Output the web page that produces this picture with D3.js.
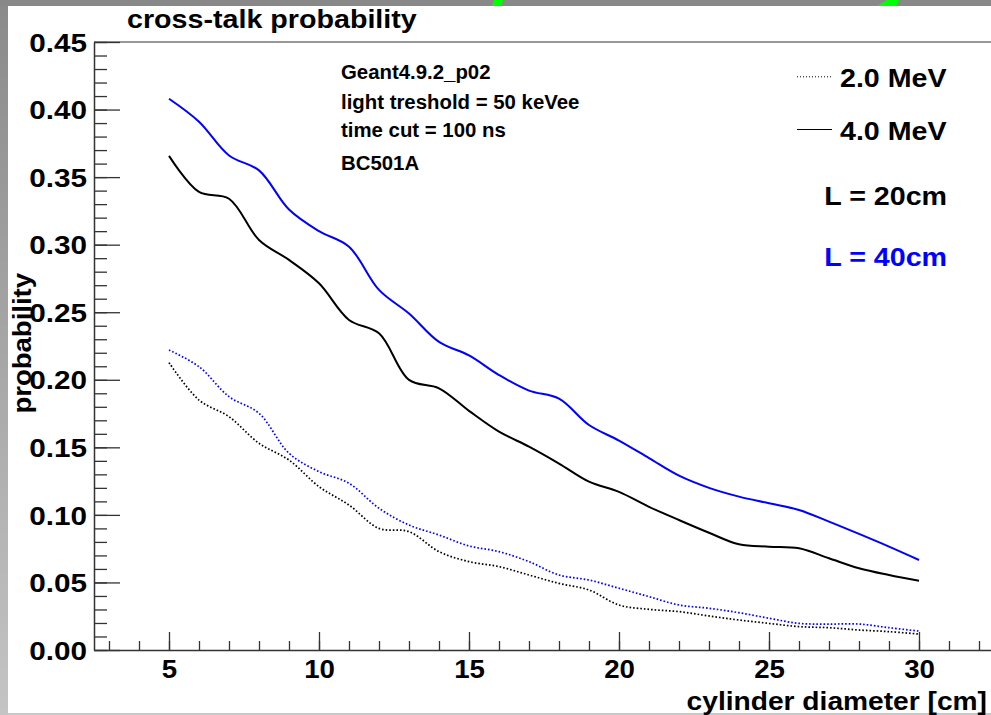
<!DOCTYPE html>
<html>
<head>
<meta charset="utf-8">
<script src="https://cdn.jsdelivr.net/npm/d3@7"></script>
<style>
  html, body { margin: 0; padding: 0; background: #fff; }
  svg { display: block; }
  text { font-family: "Liberation Sans", Arial, Helvetica, sans-serif; font-weight: bold; }
</style>
</head>
<body>
<svg id="chart" width="991" height="715"></svg>
<script>
// ---------------- data ----------------
const diameters = [5,6,7,8,9,10,11,12,13,14,15,16,17,18,19,20,21,22,23,24,25,26,27,28,29,30];
const l40_4MeV = [0.408,0.391,0.366,0.355,0.326,0.310,0.2985,0.2665,0.249,0.228,0.218,0.2035,0.192,0.186,0.1665,0.155,0.142,0.129,0.120,0.1135,0.1086,0.1036,0.095,0.0859,0.0765,0.0666];
const l20_4MeV = [0.3657,0.339,0.334,0.3035,0.2887,0.2714,0.2443,0.2344,0.1999,0.1937,0.177,0.1616,0.1505,0.138,0.1246,0.117,0.106,0.0962,0.0868,0.0782,0.0765,0.0753,0.0679,0.0605,0.0555,0.0513];
const l40_2MeV = [0.222,0.2097,0.1875,0.1752,0.1456,0.132,0.1234,0.1049,0.0925,0.0851,0.077,0.0728,0.0654,0.0555,0.0518,0.0457,0.0395,0.0333,0.0309,0.0276,0.0235,0.0197,0.0192,0.0192,0.0165,0.014];
const l20_2MeV = [0.2127,0.185,0.1727,0.153,0.1406,0.1209,0.1073,0.090,0.0876,0.0728,0.0654,0.0617,0.0555,0.0493,0.0444,0.0333,0.0301,0.0284,0.0252,0.0222,0.0197,0.0173,0.0165,0.0148,0.0136,0.0118];
const xTickValues = [5,10,15,20,25,30];
const yTickValues = [0,0.05,0.10,0.15,0.20,0.25,0.30,0.35,0.40,0.45];
const titleText = "cross-talk probability";
const xTitle = "cylinder diameter [cm]";
const yTitle = "probability";
const infoLines = ["Geant4.9.2_p02","light treshold = 50 keVee","time cut = 100 ns","BC501A"];
const legendEnergies = ["2.0 MeV","4.0 MeV"];
const legendLengths = ["L = 20cm","L = 40cm"];

// ---------------- layout ----------------
const svg = d3.select("#chart");
const W = 991, H = 715;
const X0 = 94, Y0 = 42, YB = 650;
const x = d3.scaleLinear().domain([2.5, 32.5]).range([X0, X0 + 900]);
const y = d3.scaleLinear().domain([0, 0.45]).range([YB, Y0]);

// background / window decoration
svg.append("rect").attr("width", W).attr("height", H).attr("fill", "#fff");
const grad = svg.append("defs").append("linearGradient").attr("id","lg").attr("x1",0).attr("y1",0).attr("x2",0).attr("y2",1);
grad.append("stop").attr("offset","0%").attr("stop-color","#8a8a8a");
grad.append("stop").attr("offset","100%").attr("stop-color","#c4c4c4");
svg.append("rect").attr("x",0).attr("y",0).attr("width",8).attr("height",H).attr("fill","url(#lg)");
svg.append("rect").attr("x",0).attr("y",0).attr("width",W).attr("height",6).attr("fill","#888");
svg.append("rect").attr("x",8).attr("y",713).attr("width",W).attr("height",2).attr("fill","#c8c8c8");
svg.append("polygon").attr("points","494,0 503,0 501,6 492,6").attr("fill","#00ff00");
svg.append("polygon").attr("points","887,0 899,0 896,6 877,6").attr("fill","#00ff00");

const axisColor = "#333";

// frame top line (right edge out of window)
svg.append("line").attr("x1", X0).attr("x2", x(32.5)).attr("y1", Y0).attr("y2", Y0)
  .attr("stroke", axisColor).attr("stroke-width", 1.2);

// x axis minor ticks
svg.append("g").attr("transform", `translate(0,${YB})`)
  .call(d3.axisBottom(x).tickValues(d3.range(3, 33, 1)).tickSizeInner(-9).tickSizeOuter(0).tickFormat(""))
  .call(g => g.selectAll("line").attr("stroke", axisColor).attr("stroke-width", 1.3))
  .call(g => g.select(".domain").attr("stroke", axisColor).attr("stroke-width", 1.5));
// x axis major ticks
svg.append("g").attr("transform", `translate(0,${YB})`)
  .call(d3.axisBottom(x).tickValues(xTickValues).tickSizeInner(-18).tickSizeOuter(0).tickPadding(0))
  .call(g => g.select(".domain").remove())
  .call(g => g.selectAll("line").attr("stroke", axisColor).attr("stroke-width", 1.3))
  .call(g => g.selectAll("text").attr("y", 0).attr("dy", 0)
      .attr("transform", "translate(0,28) scale(1.08,1)")
      .attr("font-size", 25.6).attr("fill", "#000")
      .style("font-family", '"Liberation Sans", Arial, sans-serif').style("font-weight", "bold"));

// y axis minor ticks
svg.append("g").attr("transform", `translate(${X0},0)`)
  .call(d3.axisLeft(y).tickValues(d3.range(0, 0.4501, 0.01)).tickSizeInner(-13).tickSizeOuter(0).tickFormat(""))
  .call(g => g.selectAll("line").attr("stroke", axisColor).attr("stroke-width", 1.3))
  .call(g => g.select(".domain").attr("stroke", axisColor).attr("stroke-width", 1.5));
// y axis major ticks
svg.append("g").attr("transform", `translate(${X0},0)`)
  .call(d3.axisLeft(y).tickValues(yTickValues).tickSizeInner(-26).tickSizeOuter(0).tickPadding(0).tickFormat(d3.format(".2f")))
  .call(g => g.select(".domain").remove())
  .call(g => g.selectAll("line").attr("stroke", axisColor).attr("stroke-width", 1.3))
  .call(g => g.selectAll("text").attr("x", 0).attr("dy", 0)
      .attr("transform", "translate(-7,9.2) scale(1.16,1)")
      .attr("text-anchor", "end")
      .attr("font-size", 25.6).attr("fill", "#000")
      .style("font-family", '"Liberation Sans", Arial, sans-serif').style("font-weight", "bold"));

// curves
const line = d3.line().x((d) => x(d[0])).y((d) => y(d[1])).curve(d3.curveCatmullRom.alpha(0.5));
const series = [
  { vals: l20_2MeV, color: "#000", dash: "1.6,2", width: 1.7 },
  { vals: l40_2MeV, color: "#0000ff", dash: "1.6,2", width: 1.7 },
  { vals: l20_4MeV, color: "#000", dash: null, width: 2 },
  { vals: l40_4MeV, color: "#0000ff", dash: null, width: 2 },
];
const plot = svg.append("g");
series.forEach(s => {
  plot.append("path")
    .datum(diameters.map((d, i) => [d, s.vals[i]]))
    .attr("d", line)
    .attr("fill", "none")
    .attr("stroke", s.color)
    .attr("stroke-width", s.width)
    .attr("stroke-dasharray", s.dash)
    .attr("stroke-linejoin", "round");
});

// title
svg.append("text").attr("transform", "translate(127,28.3) scale(1.12,1)")
  .attr("font-size", 25.6).attr("fill", "#000").text(titleText);

// axis titles
svg.append("text").attr("transform", "translate(987,710) scale(1.1,1)")
  .attr("text-anchor", "end").attr("font-size", 25.6).attr("fill", "#000").text(xTitle);
svg.append("text").attr("transform", "translate(31,273) rotate(-90) scale(1.1,1)")
  .attr("text-anchor", "end").attr("font-size", 25).attr("fill", "#000").text(yTitle);

// info text
const infoY = [79, 109, 137, 170];
infoLines.forEach((t, i) => {
  svg.append("text").attr("transform", `translate(341,${infoY[i]}) scale(1.04,1)`)
    .attr("font-size", 19.6).attr("fill", "#000").text(t);
});

// legend
const legY = [87.3, 140];
legendEnergies.forEach((t, i) => {
  svg.append("line").attr("x1", 797).attr("x2", 832).attr("y1", legY[i] - 10.5).attr("y2", legY[i] - 10.5)
    .attr("stroke", "#000").attr("stroke-width", 1)
    .attr("stroke-dasharray", i === 0 ? "1,2" : null);
  svg.append("text").attr("transform", `translate(840,${legY[i]}) scale(1.08,1)`)
    .attr("font-size", 26.5).attr("fill", "#000").text(t);
});
const lenY = [205, 265.7];
const lenColors = ["#000", "#0000ff"];
legendLengths.forEach((t, i) => {
  svg.append("text").attr("transform", `translate(947,${lenY[i]}) scale(1.08,1)`)
    .attr("text-anchor", "end").attr("font-size", 26.5).attr("fill", lenColors[i]).text(t);
});
</script>
</body>
</html>
